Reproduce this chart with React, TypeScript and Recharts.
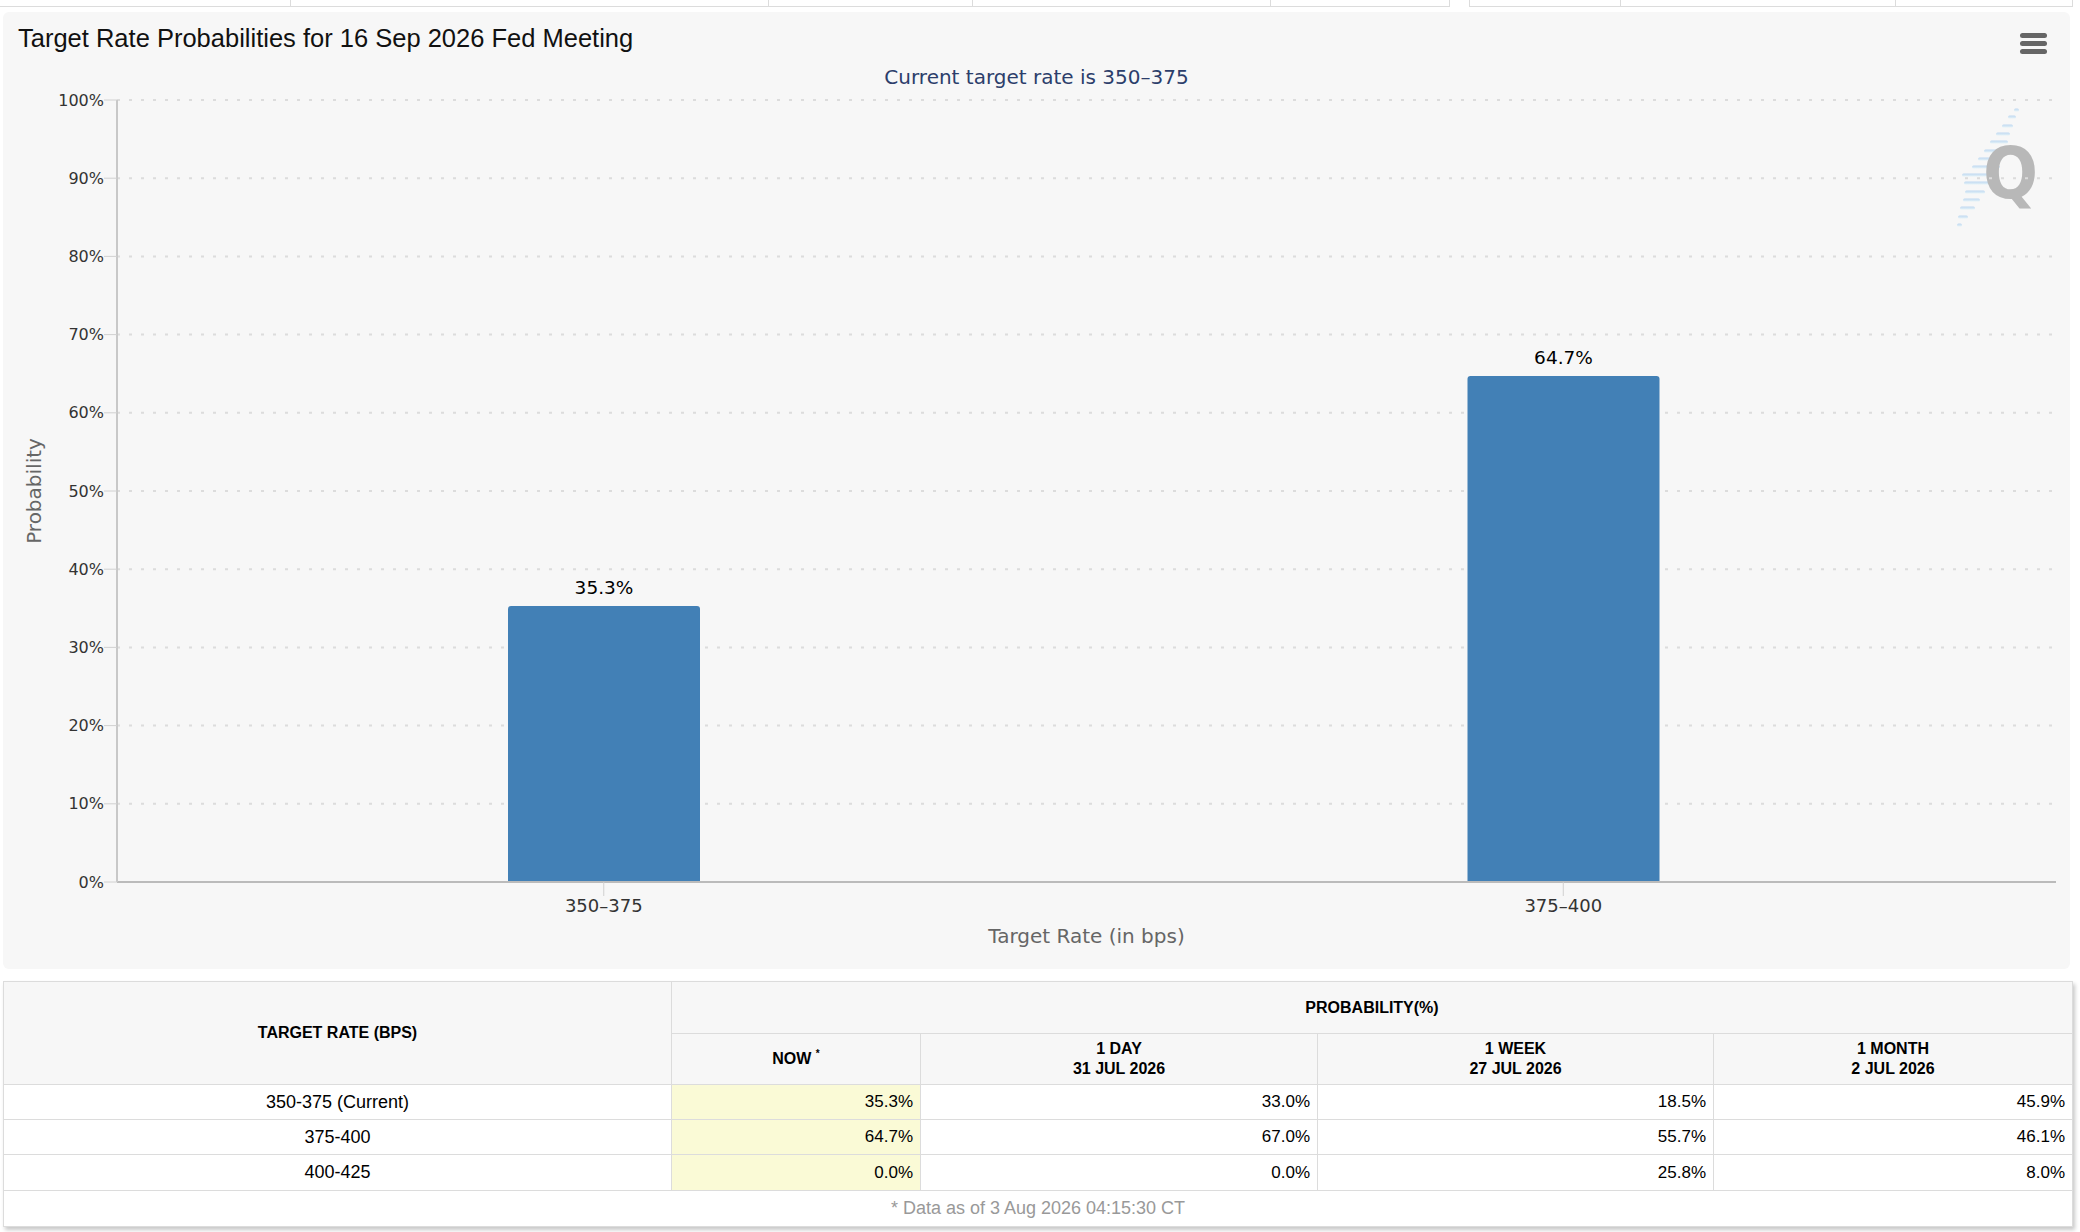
import React from 'react';
import { Bar, BarChart, CartesianGrid, Label, LabelList, XAxis, YAxis } from 'recharts';

// chart values
const rateBuckets = ['350–375', '375–400'];
const probabilities = [35.3, 64.7];
const yTicks = [0, 10, 20, 30, 40, 50, 60, 70, 80, 90, 100];

// table values
const tableRates = ['350-375 (Current)', '375-400', '400-425'];
const nowValues = [35.3, 64.7, 0.0];
const dayValues = [33.0, 67.0, 0.0];
const weekValues = [18.5, 55.7, 25.8];
const monthValues = [45.9, 46.1, 8.0];
const periodHeaders = [
  ['1 DAY', '31 JUL 2026'],
  ['1 WEEK', '27 JUL 2026'],
  ['1 MONTH', '2 JUL 2026'],
];

const chartData = rateBuckets.map((rate, i) => ({ rate, probability: probabilities[i] }));

const chartFont = '"DejaVu Sans", Verdana, sans-serif';
const tableFont = '"Liberation Sans", Arial, Helvetica, sans-serif';
const pct = (v: number) => `${Number(v).toFixed(1)}%`;

// top strip separators (decoration of the page above the chart)
const stripStops = [290, 768, 972, 1270, 1449, 1469, 1620, 1895, 2072];

// watermark streak: [y, x1, x2]
const streak = [
  [110, 2014, 2019], [117, 2008, 2016], [126, 2002, 2013], [134, 1996, 2010],
  [142, 1990, 2008], [151, 1984, 2005], [159, 1978, 2002], [167, 1972, 2000],
  [175, 1962, 1995], [183, 1964, 1990], [192, 1965, 1985], [200, 1963, 1980],
  [208, 1960, 1975], [217, 1958, 1968], [225, 1957, 1962],
];

const TopStrip = () => (
  <div style={{ position: 'absolute', left: 0, top: 0, width: 2080, height: 8 }}>
    <div style={{ position: 'absolute', left: 0, top: 6, width: 1449, height: 1, background: '#dcdcdc' }} />
    <div style={{ position: 'absolute', left: 1469, top: 6, width: 603, height: 1, background: '#dcdcdc' }} />
    {stripStops.map((x) => (
      <div key={x} style={{ position: 'absolute', left: x, top: 0, width: 1, height: 7, background: '#dcdcdc' }} />
    ))}
  </div>
);

const Watermark = () => (
  <svg
    width={2080}
    height={260}
    style={{ position: 'absolute', left: -3, top: -12, pointerEvents: 'none' }}
  >
    <defs>
      <linearGradient id="streakGrad" x1="0" y1="0" x2="0" y2="1">
        <stop offset="0%" stopColor="#a8cbee" />
        <stop offset="100%" stopColor="#dcf0f8" />
      </linearGradient>
    </defs>
    {streak.map(([y, x1, x2]) => (
      <rect key={y} x={x1} y={y - 1.5} width={x2 - x1} height={3} rx={1.5} fill="url(#streakGrad)" opacity={0.7} />
    ))}
    <text
      x={1983}
      y={198}
      fontFamily='"DejaVu Sans Condensed", "DejaVu Sans", sans-serif'
      fontWeight="bold"
      fontSize={72}
      fill="#b8b8b8"
    >
      Q
    </text>
  </svg>
);

const MenuIcon = () => (
  <div style={{ position: 'absolute', left: 2017, top: 21, width: 27, height: 21 }}>
    {[0, 8, 16].map((y) => (
      <div
        key={y}
        style={{ position: 'absolute', left: 0, top: y, width: 27, height: 5, borderRadius: 2.5, background: '#666' }}
      />
    ))}
  </div>
);

const YTitle = (props: any) => {
  const vb = props.viewBox || { x: 0, y: 88, width: 114, height: 782 };
  const cx = 31;
  const cy = vb.y + vb.height / 2;
  return (
    <text
      x={cx}
      y={cy}
      transform={`rotate(-90, ${cx}, ${cy})`}
      textAnchor="middle"
      dominantBaseline="central"
      fill="#666"
      fontSize={20}
      fontFamily={chartFont}
    >
      Probability
    </text>
  );
};

const XTitle = (props: any) => {
  const vb = props.viewBox || { x: 114, y: 870, width: 1939, height: 86 };
  return (
    <text
      x={vb.x + vb.width / 2}
      y={vb.y + 61}
      textAnchor="middle"
      fill="#666"
      fontSize={20}
      fontFamily={chartFont}
    >
      Target Rate (in bps)
    </text>
  );
};

const ChartPanel = () => (
  <div
    style={{
      position: 'absolute',
      left: 3,
      top: 12,
      width: 2067,
      height: 957,
      background: '#f7f7f7',
      borderRadius: 6,
      overflow: 'hidden',
    }}
  >
    <Watermark />
    <div
      style={{
        position: 'absolute',
        left: 15,
        top: 14,
        fontFamily: tableFont,
        fontSize: 25.5,
        lineHeight: '25px',
        color: '#111',
        whiteSpace: 'nowrap',
      }}
    >
      Target Rate Probabilities for 16 Sep 2026 Fed Meeting
    </div>
    <div
      style={{
        position: 'absolute',
        left: 0,
        top: 55,
        width: 2067,
        textAlign: 'center',
        fontFamily: chartFont,
        fontSize: 20,
        lineHeight: '20px',
        color: '#2c3e6b',
      }}
    >
      Current target rate is 350–375
    </div>
    <MenuIcon />
    <div style={{ position: 'absolute', left: 0, top: 0 }}>
      <BarChart
        width={2067}
        height={956}
        data={chartData}
        margin={{ top: 88, right: 14, bottom: 0, left: 0 }}
      >
        <CartesianGrid vertical={false} stroke="#dcdcdc" strokeWidth={2} strokeDasharray="3 9" />
        <XAxis
          dataKey="rate"
          height={86}
          interval={0}
          padding={{ left: 7, right: 13 }}
          tickSize={14}
          tickMargin={3}
          tickLine={{ stroke: '#d0d0d0' }}
          axisLine={{ stroke: '#bbbbbb', strokeWidth: 2 }}
          tick={{ fill: '#333', fontSize: 18, fontFamily: chartFont }}
        >
          <Label content={<XTitle />} />
        </XAxis>
        <YAxis
          type="number"
          domain={[0, 100]}
          ticks={yTicks}
          interval={0}
          width={114}
          tickSize={13}
          tickMargin={0}
          tickFormatter={(v: number) => `${v}%`}
          tickLine={{ stroke: '#d0d0d0' }}
          axisLine={{ stroke: '#c8c8c8', strokeWidth: 2 }}
          tick={{ fill: '#333', fontSize: 16, fontFamily: chartFont }}
        >
          <Label content={<YTitle />} />
        </YAxis>
        <Bar
          dataKey="probability"
          fill="#4280b6"
          barSize={192}
          radius={[3, 3, 0, 0]}
          isAnimationActive={false}
        >
          <LabelList
            dataKey="probability"
            position="top"
            offset={12}
            formatter={(v: any) => pct(v)}
            fill="#000"
            fontSize={18.5}
            fontFamily={chartFont}
          />
        </Bar>
      </BarChart>
    </div>
  </div>
);

const border = '1px solid #dcdcdc';
const headCell: React.CSSProperties = {
  border,
  background: '#f7f7f7',
  fontWeight: 'bold',
  fontSize: 16,
  lineHeight: '20px',
  textAlign: 'center',
  verticalAlign: 'middle',
  padding: 0,
  color: '#000',
};
const bodyCell: React.CSSProperties = {
  border,
  fontSize: 17,
  textAlign: 'right',
  verticalAlign: 'middle',
  padding: '0 7px 0 0',
  color: '#000',
  background: '#fff',
};

const ProbabilityTable = () => (
  <table
    style={{
      position: 'absolute',
      left: 3,
      top: 981,
      width: 2069,
      borderCollapse: 'collapse',
      tableLayout: 'fixed',
      fontFamily: tableFont,
      boxShadow: '2px 3px 4px rgba(0,0,0,0.22)',
    }}
  >
    <colgroup>
      <col style={{ width: 668 }} />
      <col style={{ width: 249 }} />
      <col style={{ width: 397 }} />
      <col style={{ width: 396 }} />
      <col style={{ width: 359 }} />
    </colgroup>
    <tbody>
      <tr style={{ height: 52 }}>
        <td style={headCell} rowSpan={2}>
          TARGET RATE (BPS)
        </td>
        <td style={headCell} colSpan={4}>
          PROBABILITY(%)
        </td>
      </tr>
      <tr style={{ height: 51 }}>
        <td style={headCell}>
          NOW <sup style={{ fontSize: 10, verticalAlign: 'top', lineHeight: '10px' }}>*</sup>
        </td>
        {periodHeaders.map(([a, b]) => (
          <td key={a} style={headCell}>
            {a}
            <br />
            {b}
          </td>
        ))}
      </tr>
      {tableRates.map((rate, i) => (
        <tr key={rate} style={{ height: i === 2 ? 36 : 35 }}>
          <td style={{ ...bodyCell, fontSize: 18, textAlign: 'center', padding: 0 }}>{rate}</td>
          <td style={{ ...bodyCell, background: '#fafad6' }}>{pct(nowValues[i])}</td>
          <td style={bodyCell}>{pct(dayValues[i])}</td>
          <td style={bodyCell}>{pct(weekValues[i])}</td>
          <td style={bodyCell}>{pct(monthValues[i])}</td>
        </tr>
      ))}
      <tr style={{ height: 36 }}>
        <td colSpan={5} style={{ ...bodyCell, fontSize: 18, textAlign: 'center', padding: 0, color: '#999' }}>
          * Data as of 3 Aug 2026 04:15:30 CT
        </td>
      </tr>
    </tbody>
  </table>
);

const App = () => (
  <div style={{ position: 'relative', width: 2080, height: 1232, background: '#fff' }}>
    <style>{'body{margin:0;background:#fff}'}</style>
    <TopStrip />
    <ChartPanel />
    <ProbabilityTable />
  </div>
);

export default App;
